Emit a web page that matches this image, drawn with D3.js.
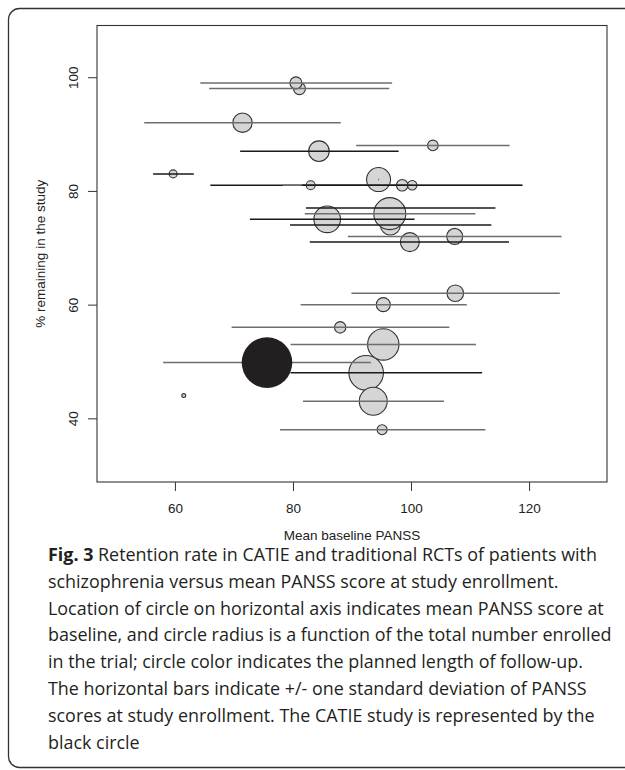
<!DOCTYPE html>
<html>
<head>
<meta charset="utf-8">
<script src="https://cdn.jsdelivr.net/npm/d3@7"></script>
<style>
  body { margin: 0; background: #fff; }
</style>
</head>
<body>
<div id="chart-area"></div>
<script>
var width = 625,
    height = 770;

// studies, in the order they are drawn
var panss     = [95.1, 61.5, 92.4, 93.6, 75.6, 95.3, 88.0, 95.3, 107.5, 99.8, 107.4, 96.5, 98.2, 85.8, 96.4, 83.0, 98.5, 100.2, 94.5, 59.7, 84.4, 103.7, 71.45, 81.1, 80.5];
var retention = [38, 44, 48, 43, 49.8, 53, 56, 60, 62, 71, 72, 74, 77, 75, 76, 81, 81, 81, 82, 83, 87, 88, 92, 98, 99];
var enrolled  = [58, 9, 698, 457, 1493, 575, 76, 114, 161, 210, 149, 233, 37, 413, 597, 47, 76, 52, 336, 37, 247, 66, 219, 84, 84];
var sdLow     = [77.8, null, 79.6, 81.7, 58.0, 79.6, 69.6, 81.3, 89.9, 82.85, 89.3, 79.5, 82.2, 72.7, 82.0, 66.0, 78.3, 81.5, 94.4, 56.3, 71.05, 90.7, 54.8, 65.8, 64.3];
var sdHigh    = [112.6, null, 112.05, 105.6, 93.2, 111.0, 106.5, 109.45, 125.2, 116.6, 125.5, 113.6, 114.3, 100.6, 110.9, 100.0, 118.7, 118.9, 94.6, 63.2, 97.9, 116.7, 88.1, 96.3, 96.8];
var barShade  = ["grey", "", "dark", "grey", "grey", "grey", "grey", "grey", "grey", "dark", "grey", "dark", "dark", "dark", "grey", "dark", "grey", "dark", "grey", "dark", "dark", "grey", "grey", "grey", "grey"];
var catieIndex = 4;

var xTicks = [60, 80, 100, 120];
var yTicks = [40, 60, 80, 100];

var captionLines = [
  "Retention rate in CATIE and traditional RCTs of patients with",
  "schizophrenia versus mean PANSS score at study enrollment.",
  "Location of circle on horizontal axis indicates mean PANSS score at",
  "baseline, and circle radius is a function of the total number enrolled",
  "in the trial; circle color indicates the planned length of follow-up.",
  "The horizontal bars indicate +/- one standard deviation of PANSS",
  "scores at study enrollment. The CATIE study is represented by the",
  "black circle"
];

var studies = d3.range(panss.length).map(function(i) {
  return {
    x: panss[i], y: retention[i], n: enrolled[i],
    lo: sdLow[i], hi: sdHigh[i], shade: barShade[i], catie: i === catieIndex
  };
});

var svg = d3.select("#chart-area").append("svg")
    .attr("width", width)
    .attr("height", height);

// outer frame of the figure panel
svg.append("rect")
    .attr("x", 8.5).attr("y", 8.5)
    .attr("width", 700).attr("height", 759)
    .attr("rx", 11)
    .attr("fill", "none")
    .attr("stroke", "#333")
    .attr("stroke-width", 1.3);

var plot = { left: 97, right: 607, top: 25.5, bottom: 482 };

var x = d3.scaleLinear().domain([46.8, 133.2]).range([plot.left, plot.right]);
var y = d3.scaleLinear().domain([28.8, 109.1]).range([plot.bottom, plot.top]);
var r = d3.scaleSqrt().domain([0, 1493]).range([0, 25.3]);

var axisFont = "'Liberation Sans', Arial, sans-serif";

// x axis
var xAxis = svg.append("g")
    .attr("transform", "translate(0," + plot.bottom + ")")
    .call(d3.axisBottom(x).tickValues(xTicks).tickSize(9).tickPadding(12).tickSizeOuter(0));
xAxis.select(".domain").remove();
xAxis.selectAll("line").attr("stroke", "#333");
xAxis.selectAll("text")
    .style("font-family", axisFont).style("font-size", "13.5px").attr("fill", "#222");

// y axis, labels parallel to the axis like R
var yAxis = svg.append("g")
    .attr("transform", "translate(" + plot.left + ",0)")
    .call(d3.axisLeft(y).tickValues(yTicks).tickSize(9).tickSizeOuter(0));
yAxis.select(".domain").remove();
yAxis.selectAll("line").attr("stroke", "#333");
yAxis.selectAll("text")
    .attr("x", null).attr("dy", null)
    .attr("transform", "translate(-19,0) rotate(-90)")
    .attr("text-anchor", "middle")
    .style("font-family", axisFont).style("font-size", "13.5px").attr("fill", "#222");

svg.append("text")
    .attr("x", (plot.left + plot.right) / 2)
    .attr("y", 540)
    .attr("text-anchor", "middle")
    .style("font-family", axisFont).style("font-size", "13.5px")
    .attr("fill", "#222")
    .text("Mean baseline PANSS");

svg.append("text")
    .attr("transform", "translate(45," + (plot.top + plot.bottom) / 2 + ") rotate(-90)")
    .attr("text-anchor", "middle")
    .style("font-family", axisFont).style("font-size", "13.5px")
    .attr("fill", "#222")
    .text("% remaining in the study");

// light circles first, then the SD bars over them, CATIE on top
svg.append("g").selectAll("circle")
    .data(studies.filter(function(d) { return !d.catie; }))
    .enter()
    .append("circle")
    .attr("cx", function(d) { return x(d.x); })
    .attr("cy", function(d) { return y(d.y); })
    .attr("r", function(d) { return r(d.n); })
    .attr("fill", "#d5d5d5")
    .attr("stroke", "#333")
    .attr("stroke-width", 1.1);

svg.append("g").selectAll("line")
    .data(studies.filter(function(d) { return d.lo !== null; }))
    .enter()
    .append("line")
    .attr("x1", function(d) { return x(d.lo); })
    .attr("x2", function(d) { return x(d.hi); })
    .attr("y1", function(d) { return y(d.y); })
    .attr("y2", function(d) { return y(d.y); })
    .attr("stroke", function(d) { return d.shade === "dark" ? "#1a1a1a" : "#6e6e6e"; })
    .attr("stroke-width", 1.5);

svg.append("g").selectAll("circle")
    .data(studies.filter(function(d) { return d.catie; }))
    .enter()
    .append("circle")
    .attr("cx", function(d) { return x(d.x); })
    .attr("cy", function(d) { return y(d.y); })
    .attr("r", function(d) { return r(d.n); })
    .attr("fill", "#231f20");

// plot box
svg.append("rect")
    .attr("x", plot.left).attr("y", plot.top)
    .attr("width", plot.right - plot.left).attr("height", plot.bottom - plot.top)
    .attr("fill", "none")
    .attr("stroke", "#333")
    .attr("stroke-width", 1.1);

// caption
var capFont = "'Open Sans', 'Noto Sans', sans-serif";
var caption = svg.append("g").attr("fill", "#231f20")
    .style("font-family", capFont);

// size the caption so the longest line spans like the original
var probe = caption.append("text").style("font-size", "18px").text(captionLines[3]);
var capSize = 18 * 564 / probe.node().getComputedTextLength();
probe.remove();

caption.selectAll("text")
    .data(captionLines)
    .enter()
    .append("text")
    .attr("x", 48)
    .attr("y", function(d, i) { return 561 + i * 26.8; })
    .style("font-size", capSize + "px")
    .each(function(d, i) {
      var t = d3.select(this);
      if (i === 0) {
        t.append("tspan").style("font-weight", "bold").text("Fig. 3");
        t.append("tspan").text(" " + d);
      } else {
        t.text(d);
      }
    });
</script>
</body>
</html>
